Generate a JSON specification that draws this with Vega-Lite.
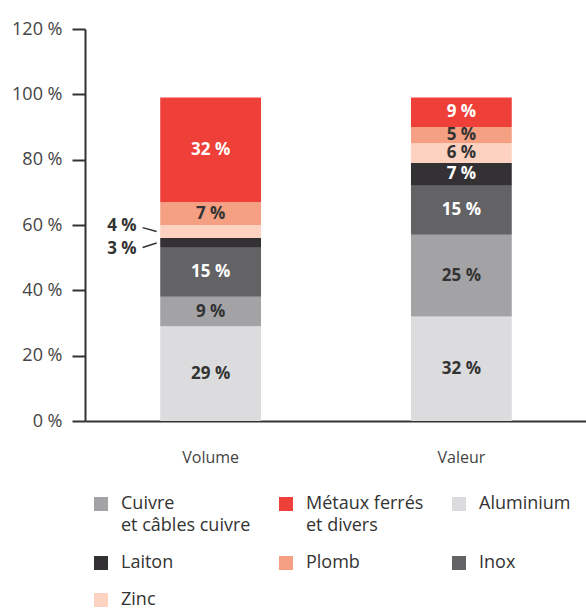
{
  "$schema": "https://vega.github.io/schema/vega-lite/v6.json",
  "width": 502,
  "height": 392,
  "autosize": "none",
  "padding": {"left": 85, "top": 29, "right": 0, "bottom": 187},
  "background": "white",
  "config": {
    "font": "Open Sans",
    "view": {"stroke": null},
    "style": {"guide-label": {"lineHeight": 22}}
  },
  "data": {
    "values": [
      {"cat": "Volume", "metal": "Aluminium", "value": 29},
      {"cat": "Volume", "metal": "Cuivre et câbles cuivre", "value": 9},
      {"cat": "Volume", "metal": "Inox", "value": 15},
      {"cat": "Volume", "metal": "Laiton", "value": 3},
      {"cat": "Volume", "metal": "Zinc", "value": 4},
      {"cat": "Volume", "metal": "Plomb", "value": 7},
      {"cat": "Volume", "metal": "Métaux ferrés et divers", "value": 32},
      {"cat": "Valeur", "metal": "Aluminium", "value": 32},
      {"cat": "Valeur", "metal": "Cuivre et câbles cuivre", "value": 25},
      {"cat": "Valeur", "metal": "Inox", "value": 15},
      {"cat": "Valeur", "metal": "Laiton", "value": 7},
      {"cat": "Valeur", "metal": "Zinc", "value": 6},
      {"cat": "Valeur", "metal": "Plomb", "value": 5},
      {"cat": "Valeur", "metal": "Métaux ferrés et divers", "value": 9}
    ]
  },
  "transform": [
    {"calculate": "indexof(['Aluminium','Cuivre et câbles cuivre','Inox','Laiton','Zinc','Plomb','Métaux ferrés et divers'], datum.metal)", "as": "ord"},
    {"stack": "value", "groupby": ["cat"], "sort": [{"field": "ord"}], "as": ["v0", "v1"]},
    {"calculate": "(datum.v0 + datum.v1) / 2", "as": "mid"},
    {"calculate": "datum.value + ' %'", "as": "lbl"}
  ],
  "encoding": {
    "x": {
      "field": "cat",
      "type": "nominal",
      "sort": ["Volume", "Valeur"],
      "scale": {"paddingInner": 0.598, "paddingOuter": 0.3},
      "axis": {
        "title": null,
        "labelAngle": 0,
        "ticks": false,
        "domainColor": "#333333",
        "domainWidth": 2,
        "labelFontSize": 16,
        "labelColor": "#444444",
        "labelPadding": 28
      }
    }
  },
  "layer": [
    {
      "mark": {"type": "bar"},
      "encoding": {
        "y": {
          "field": "v0",
          "type": "quantitative",
          "scale": {"domain": [0, 120], "nice": false},
          "axis": {
            "title": null,
            "values": [0, 20, 40, 60, 80, 100, 120],
            "labelExpr": "datum.value + ' %'",
            "grid": false,
            "tickSize": 13,
            "tickWidth": 2,
            "tickColor": "#333333",
            "domainColor": "#333333",
            "domainWidth": 2,
            "labelPadding": 10,
            "labelFontSize": 18,
            "labelColor": "#444444"
          }
        },
        "y2": {"field": "v1"},
        "color": {
          "field": "metal",
          "type": "nominal",
          "scale": {
            "domain": ["Cuivre et câbles cuivre", "Métaux ferrés et divers", "Aluminium", "Laiton", "Plomb", "Inox", "Zinc"],
            "range": ["#a3a3a6", "#ee4038", "#dcdcde", "#333133", "#f5a083", "#636366", "#fdd2c1"]
          },
          "legend": {
            "orient": "none",
            "direction": "horizontal",
            "legendX": 7,
            "legendY": 466,
            "padding": 0,
            "columns": 3,
            "title": null,
            "symbolType": "square",
            "symbolSize": 196,
            "symbolStrokeWidth": 0,
            "labelFontSize": 18,
            "labelColor": "#333333",
            "labelOffset": 11,
            "labelLimit": 300,
            "columnPadding": 26,
            "rowPadding": 19,
            "gridAlign": "each",
            "labelBaseline": "top",
            "labelExpr": "test(/ et /, datum.label) ? [substring(datum.label, 0, indexof(datum.label, ' et ')), substring(datum.label, indexof(datum.label, ' et ') + 1)] : (datum.label == 'Aluminium' ? ['Aluminium', ' '] : datum.label)",
            "encode": {"labels": {"update": {"dy": {"value": -9}}}}
          }
        }
      }
    },
    {
      "transform": [{"filter": "datum.value >= 5"}],
      "mark": {"type": "text", "fontSize": 17, "fontWeight": "bold", "baseline": "middle", "align": "center"},
      "encoding": {
        "y": {"field": "mid", "type": "quantitative"},
        "text": {"field": "lbl"},
        "color": {
          "condition": {"test": "indexof(['Métaux ferrés et divers','Inox','Laiton'], datum.metal) >= 0", "value": "#ffffff"},
          "value": "#333333"
        }
      }
    },
    {
      "transform": [
        {"filter": "datum.value < 5"},
        {"calculate": "datum.mid + (datum.metal == 'Zinc' ? 1.8 : -1.7)", "as": "ly"}
      ],
      "mark": {"type": "text", "fontSize": 17, "fontWeight": "bold", "baseline": "middle", "align": "right", "xOffset": -74, "color": "#333333"},
      "encoding": {
        "y": {"field": "ly", "type": "quantitative"},
        "text": {"field": "lbl"}
      }
    },
    {
      "transform": [
        {"filter": "datum.value < 5"},
        {"calculate": "datum.mid + (datum.metal == 'Zinc' ? 1.2 : -1.4)", "as": "ly"}
      ],
      "mark": {"type": "rule", "xOffset": -68, "x2Offset": -54, "color": "#333333", "strokeWidth": 1.5},
      "encoding": {
        "x": {"field": "cat", "type": "nominal", "sort": ["Volume", "Valeur"], "bandPosition": 0.5},
        "x2": {"field": "cat", "bandPosition": 0.5},
        "y": {"field": "ly", "type": "quantitative"},
        "y2": {"field": "mid"}
      }
    }
  ]
}
